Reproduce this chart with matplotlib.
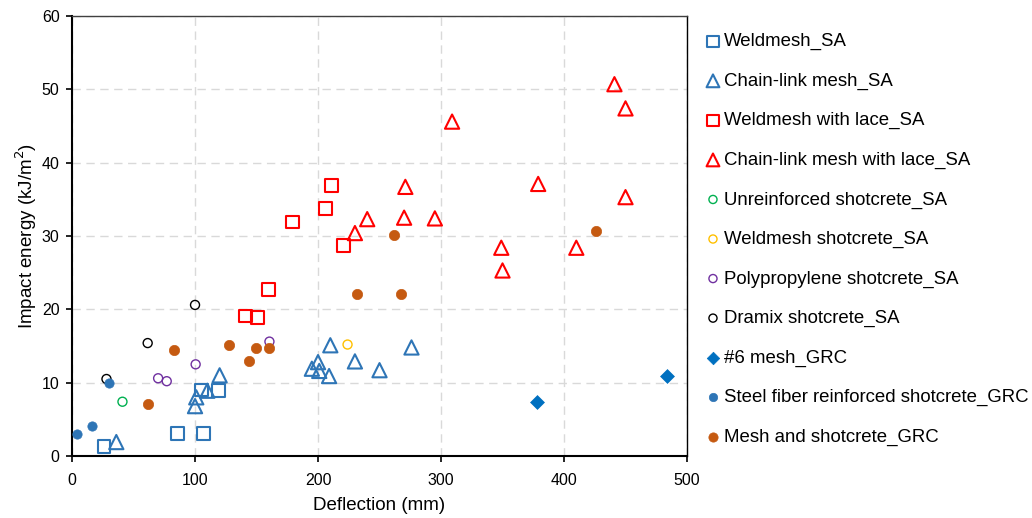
import matplotlib
matplotlib.use("Agg")
import matplotlib.pyplot as plt

plt.rcParams['font.family'] = ['Liberation Sans', 'DejaVu Sans']

weld_sa_x = [26, 86, 107, 105, 119]
weld_sa_y = [1.3, 3.1, 3.1, 9.0, 8.9]
chain_sa_x = [36, 100, 101, 110, 120, 195, 200, 201, 210, 209, 230, 250, 276]
chain_sa_y = [1.9, 6.8, 8.0, 8.9, 11.0, 11.9, 12.8, 11.6, 15.1, 10.9, 12.9, 11.7, 14.8]
weld_lace_x = [141, 151, 160, 179, 206, 211, 221]
weld_lace_y = [19.1, 18.9, 22.7, 31.9, 33.8, 36.9, 28.7]
chain_lace_x = [230, 240, 270, 271, 295, 309, 349, 350, 379, 410, 441, 450, 450]
chain_lace_y = [30.4, 32.3, 32.5, 36.7, 32.4, 45.6, 28.4, 25.3, 37.1, 28.4, 50.7, 47.4, 35.3]
unreinf_x = [41]
unreinf_y = [7.4]
weld_shot_x = [224]
weld_shot_y = [15.2]
poly_x = [70, 77, 100.5, 160.5]
poly_y = [10.6, 10.2, 12.5, 15.6]
dramix_x = [28, 61.5, 100]
dramix_y = [10.5, 15.4, 20.6]
mesh6_x = [378, 484]
mesh6_y = [7.3, 10.9]
steel_x = [3.8, 16, 30.4]
steel_y = [3.05, 4.1, 9.9]
mesh_shot_x = [61.5, 83, 128, 144, 149.5, 160, 262, 232, 267.5, 426]
mesh_shot_y = [7.05, 14.5, 15.2, 12.9, 14.7, 14.7, 30.2, 22.1, 22.1, 30.7]

labels = ["Weldmesh_SA", "Chain-link mesh_SA", "Weldmesh with lace_SA",
          "Chain-link mesh with lace_SA", "Unreinforced shotcrete_SA",
          "Weldmesh shotcrete_SA", "Polypropylene shotcrete_SA",
          "Dramix shotcrete_SA", "#6 mesh_GRC",
          "Steel fiber reinforced shotcrete_GRC", "Mesh and shotcrete_GRC"]

fig = plt.figure(figsize=(10.32, 5.18), dpi=100)
ax = fig.add_axes([0.0698, 0.1197, 0.5959, 0.8494])

blue = '#2E75B6'
series = [
    (weld_sa_x, weld_sa_y, dict(marker='s', s=85, facecolors='none', edgecolors=blue, linewidths=1.5)),
    (chain_sa_x, chain_sa_y, dict(marker='^', s=105, facecolors='none', edgecolors=blue, linewidths=1.5)),
    (weld_lace_x, weld_lace_y, dict(marker='s', s=85, facecolors='none', edgecolors='#FF0000', linewidths=1.5)),
    (chain_lace_x, chain_lace_y, dict(marker='^', s=105, facecolors='none', edgecolors='#FF0000', linewidths=1.5)),
    (unreinf_x, unreinf_y, dict(marker='o', s=42, facecolors='none', edgecolors='#00B050', linewidths=1.0)),
    (weld_shot_x, weld_shot_y, dict(marker='o', s=42, facecolors='none', edgecolors='#FFC000', linewidths=1.0)),
    (poly_x, poly_y, dict(marker='o', s=42, facecolors='none', edgecolors='#7030A0', linewidths=1.0)),
    (dramix_x, dramix_y, dict(marker='o', s=42, facecolors='none', edgecolors='black', linewidths=1.0)),
    (mesh6_x, mesh6_y, dict(marker='D', s=50, facecolors='#0070C0', edgecolors='#0070C0', linewidths=0.5)),
    (steel_x, steel_y, dict(marker='o', s=45, facecolors=blue, edgecolors=blue, linewidths=0.5)),
    (mesh_shot_x, mesh_shot_y, dict(marker='o', s=55, facecolors='#C55A11', edgecolors='#C55A11', linewidths=0.5)),
]
for (xs, ys, kw), lab in zip(series, labels):
    ax.scatter(xs, ys, label=lab, zorder=3, **kw)

ax.set_xlim(0, 500)
ax.set_ylim(0, 60)
ax.set_xticks(range(0, 501, 100))
ax.set_yticks(range(0, 61, 10))
ax.grid(True, color='#D9D9D9', linestyle=(0, (6, 4)), linewidth=1.0)
ax.set_axisbelow(True)
for sp in ax.spines.values():
    sp.set_color('black')
    sp.set_linewidth(1.0)
ax.spines['top'].set_color('#404040')
ax.spines['left'].set_linewidth(1.5)
ax.spines['bottom'].set_linewidth(1.5)
ax.tick_params(direction='out', length=4.5, width=1.2, labelsize=11.5)
ax.tick_params(axis='x', pad=7.5)
ax.tick_params(axis='y', pad=4.5)
ax.set_xlabel('Deflection (mm)', fontsize=13.5, labelpad=7)
ax.set_ylabel('Impact energy (kJ/m$^2$)', fontsize=13.5, labelpad=2)

leg = ax.legend(loc='upper left', bbox_to_anchor=(1.015, 0.978), frameon=False,
                fontsize=13.4, markerscale=0.9, handletextpad=0.1, labelspacing=1.2,
                handlelength=1.0, borderaxespad=0)
fig.savefig('out.png', dpi=100)
